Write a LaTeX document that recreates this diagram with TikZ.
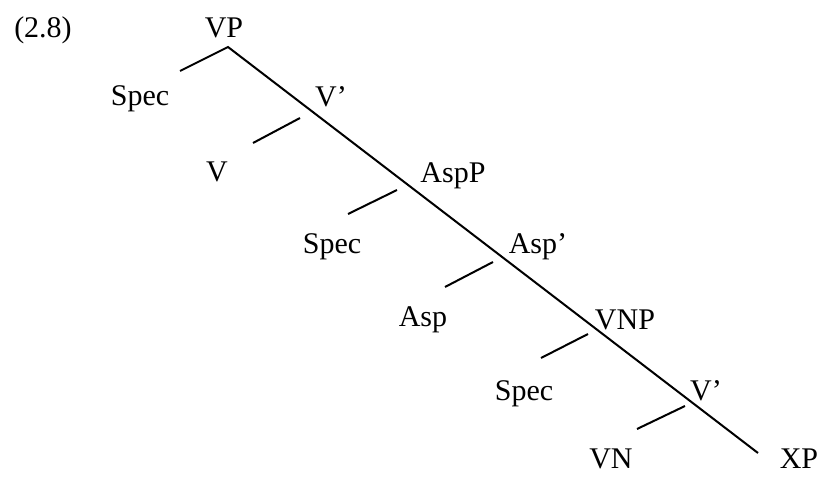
\documentclass[tikz,border=0pt]{standalone}
\usepackage{fontspec}
\setmainfont{Liberation Serif}
\usepackage{tikz}
\usetikzlibrary{positioning}

\begin{document}
\begin{tikzpicture}[
  x=0.5pt, y=-0.5pt,
  lbl/.style={anchor=base, inner sep=0pt, font=\fontsize{15}{18}\selectfont},
  branch/.style={line width=1pt}
]
  \useasboundingbox (0,0) rectangle (820,481);
  % labels
  \node[lbl] (ex)    at (43,38)   {(2.8)};
  \node[lbl] (vp)    at (224,38)  {VP};
  \node[lbl] (spa)   at (140,106) {Spec};
  \node[lbl] (vbara) at (331,107) {V'};
  \node[lbl] (v)     at (217,182) {V};
  \node[lbl] (aspp)  at (453,183) {AspP};
  \node[lbl] (spb)   at (332,253) {Spec};
  \node[lbl] (aspb)  at (538,254) {Asp'};
  \node[lbl] (asp)   at (423,326) {Asp};
  \node[lbl] (vnp)   at (625,329) {VNP};
  \node[lbl] (spc)   at (524,400) {Spec};
  \node[lbl] (vbarb) at (706,400) {V'};
  \node[lbl] (vn)    at (611,468) {VN};
  \node[lbl] (xp)    at (799,468) {XP};
  % branch ends
  \coordinate (top) at (228,47);
  \coordinate (bot) at (758,453);
  \coordinate (spaend) at (180,71);
  \coordinate (va)  at (300,118);  \coordinate (vb)  at (253,143);
  \coordinate (sba) at (397,190);  \coordinate (sbb) at (348,214);
  \coordinate (asa) at (493,262);  \coordinate (asb) at (445,287);
  \coordinate (sca) at (588,334);  \coordinate (scb) at (541,358);
  \coordinate (vna) at (685,406);  \coordinate (vnb) at (637,429);
  % tree
  \draw[branch] (spaend) -- (top) -- (bot);
  \draw[branch] (va) -- (vb);
  \draw[branch] (sba) -- (sbb);
  \draw[branch] (asa) -- (asb);
  \draw[branch] (sca) -- (scb);
  \draw[branch] (vna) -- (vnb);
\end{tikzpicture}
\end{document}
